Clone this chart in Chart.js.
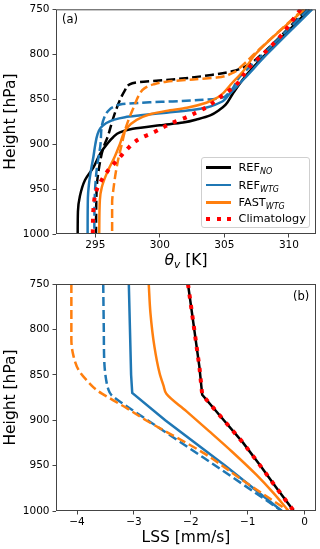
<!DOCTYPE html>
<html>
<head>
<meta charset="utf-8">
<script src="https://cdn.jsdelivr.net/npm/chart.js@4.4.1/dist/chart.umd.min.js"></script>
<style>
    html, body { margin: 0; padding: 0; background: #fff; }
    #fig { position: relative; width: 320px; height: 549px; overflow: hidden; font-family: "DejaVu Sans", sans-serif; color: #000; }
    canvas { position: absolute; left: 0; }
    .tag { position: absolute; font-size: 11.5px; line-height: 1; }
    #thetaTitle { position: absolute; left: 56px; width: 260px; top: 253px; text-align: center; font-size: 15.5px; line-height: 1; white-space: nowrap; }
    #thetaTitle sub { font-size: 10.5px; vertical-align: -3px; line-height: 0; }
    #legend { position: absolute; left: 200.5px; top: 156.5px; width: 109.5px; height: 71px; box-sizing: border-box; border: 1px solid #cfcfcf; border-radius: 3px; background: rgba(255,255,255,0.8); font-size: 11.3px; }
    .row { position: absolute; left: 0; height: 0; }
    .swatch { position: absolute; left: 4px; width: 25px; }
    .lbl { position: absolute; left: 37px; top: -5.5px; line-height: 1; white-space: nowrap; }
    .lbl sub { font-size: 8px; font-style: italic; vertical-align: -2.5px; line-height: 0; }
</style>
</head>
<body>
<div id="fig">
    <canvas id="topChart" width="320" height="270" style="top:0"></canvas>
    <canvas id="botChart" width="320" height="279" style="top:270px"></canvas>
    <div class="tag" style="left:62px;top:14px">(a)</div>
    <div class="tag" style="left:293px;top:291px">(b)</div>
    <div id="thetaTitle"><i>θ</i><sub><i>v</i></sub> [K]</div>
    <div id="legend">
        <div class="row" style="top:10px"><div class="swatch" style="top:-1.25px;height:2.5px;background:#000"></div><div class="lbl">REF<sub>NO</sub></div></div>
        <div class="row" style="top:27.5px"><div class="swatch" style="top:-1.25px;height:2.5px;background:#1f77b4"></div><div class="lbl">REF<sub>WTG</sub></div></div>
        <div class="row" style="top:44.8px"><div class="swatch" style="top:-1.25px;height:2.5px;background:#ff7f0e"></div><div class="lbl">FAST<sub>WTG</sub></div></div>
        <div class="row" style="top:61.3px"><div class="swatch" style="top:-2px;height:4px;background:repeating-linear-gradient(to right,#ff0000 0 4px,transparent 4px 10.6px)"></div><div class="lbl">Climatology</div></div>
    </div>
</div>
<script>
"use strict";

// ---- panel (a): virtual potential temperature [K] against pressure [hPa]
const pressureTicks = [750, 800, 850, 900, 950, 1000];
const thetaTicks = [295, 300, 305, 310];

const refNoThetaP = [750, 800, 825, 845, 856, 862, 868, 872, 876, 879, 883, 887, 892, 900, 910, 926, 940, 958, 975, 1000];
const refNoTheta = [311.6, 308.2, 306.6, 305.6, 305.1, 304.6, 303.9, 303.0, 301.8, 300.0, 297.9, 296.9, 296.4, 295.9, 295.4, 294.85, 294.2, 293.8, 293.65, 293.63];

const refNoDashThetaP = [750, 800, 810, 815, 819, 823, 826, 829, 831, 834, 840, 848, 866, 880, 890, 905, 925, 950, 1000];
const refNoDashTheta = [311.4, 307.9, 307.05, 306.4, 305.6, 304.0, 302.4, 300.2, 298.4, 297.6, 297.3, 297.0, 296.5, 296.2, 296.0, 295.6, 295.3, 295.1, 295.05];

const refWtgThetaP = [750, 800, 827, 845, 852, 856, 859, 862, 865, 868, 870, 873, 877, 882, 890, 900, 914, 930, 945, 960, 1000];
const refWtgTheta = [311.8, 308.3, 306.55, 305.35, 304.9, 304.3, 303.7, 302.5, 300.5, 298.5, 297.3, 296.4, 295.8, 295.4, 295.15, 295.0, 294.85, 294.65, 294.5, 294.42, 294.4];

const refWtgDashThetaP = [750, 800, 825, 845, 849, 851, 852.5, 853.5, 855, 858, 863, 870, 880, 900, 929, 960, 1000];
const refWtgDashTheta = [311.5, 308.0, 306.2, 305.2, 304.6, 303.0, 301.0, 299.2, 297.4, 296.5, 296.0, 295.7, 295.5, 295.4, 295.1, 294.95, 294.92];

const fastWtgThetaP = [750, 800, 818, 832, 847, 854, 859.5, 863, 866.5, 873, 883, 900, 914, 932, 948, 962, 1000];
const fastWtgTheta = [311.2, 307.4, 306.5, 305.6, 304.6, 303.6, 302.1, 300.5, 299.3, 298.2, 297.4, 296.9, 296.5, 295.9, 295.5, 295.35, 295.3];

const fastWtgDashThetaP = [750, 800, 815, 821, 826, 828, 830.5, 833.5, 838, 845, 858, 880, 900, 922, 950, 965, 1000];
const fastWtgDashTheta = [311.1, 307.3, 306.2, 305.6, 304.4, 302.6, 300.5, 299.5, 298.8, 298.4, 298.0, 297.4, 297.05, 296.7, 296.4, 296.3, 296.3];

const climThetaP = [750, 779, 797, 815, 834, 848.5, 859, 865, 870.5, 876, 881, 887, 892, 897, 905, 914.5, 931, 951, 973, 1000];
const climTheta = [310.9, 309.4, 308.2, 306.9, 305.9, 304.6, 303.6, 302.8, 302.0, 301.0, 300.3, 299.5, 298.7, 298.1, 297.5, 296.9, 295.9, 295.1, 294.85, 294.8];

// ---- panel (b): large-scale subsidence [mm/s] against pressure [hPa]
const lssTicks = [-4, -3, -2, -1, 0];

const refNoLssP = [750, 800, 841, 872, 900, 925, 950, 975, 1000];
const refNoLss = [-2.05, -1.94, -1.85, -1.80, -1.42, -1.08, -0.78, -0.49, -0.19];

const climLssP = [750, 800, 841, 872, 900, 925, 950, 975, 1000];
const climLss = [-2.05, -1.94, -1.85, -1.80, -1.42, -1.08, -0.78, -0.49, -0.19];

const refWtgLssP = [750, 800, 850, 870, 900, 950, 1000];
const refWtgLss = [-3.09, -3.07, -3.05, -3.03, -2.45, -1.40, -0.40];

const refWtgDashLssP = [750, 800, 837, 855, 866, 872, 881, 900, 942, 970, 1000];
const refWtgDashLss = [-3.54, -3.53, -3.52, -3.49, -3.45, -3.40, -3.21, -2.76, -1.76, -1.10, -0.40];

const fastWtgLssP = [750, 782, 819, 848, 862, 871, 890, 912, 935, 960, 980, 1000];
const fastWtgLss = [-2.74, -2.71, -2.64, -2.55, -2.48, -2.43, -2.08, -1.68, -1.27, -0.85, -0.55, -0.28];

const fastWtgDashLssP = [750, 811, 830, 845, 856, 867, 876, 887, 900, 936, 970, 1000];
const fastWtgDashLss = [-4.10, -4.10, -4.06, -3.97, -3.83, -3.65, -3.42, -3.12, -2.79, -1.78, -1.00, -0.28];

const fontFamily = '"DejaVu Sans", sans-serif';
const frameGrey = '#444';
const BLACK = '#000000', BLUE = '#1f77b4', ORANGE = '#ff7f0e', RED = '#ff0000';

const SOLID = {borderWidth: 2.5, borderDash: []};
const DASHED = {borderWidth: 2.5, borderDash: [9, 4]};
const DOTTED = {borderWidth: 4, borderDash: [4, 6.6]};

function line(values, levels, color, kind, order, smooth) {
    return Object.assign({
        data: values.map((v, i) => ({x: v, y: levels[i]})),
        borderColor: color,
        backgroundColor: color,
        fill: false,
        pointRadius: 0,
        clip: 0,
        order: order,
        tension: 0,
        cubicInterpolationMode: smooth ? 'monotone' : 'default',
        borderCapStyle: 'butt',
    }, kind);
}

// matplotlib style box round the plot area
const framePlugin = {
    id: 'frame',
    afterDraw(chart) {
        const a = chart.chartArea, ctx = chart.ctx;
        ctx.save();
        ctx.strokeStyle = frameGrey;
        ctx.lineWidth = 1;
        ctx.strokeRect(a.left + 0.5, a.top + 0.5, a.right - a.left - 1, a.bottom - a.top - 1);
        ctx.restore();
    }
};

function makePanel(canvasId, datasets, opts) {
    const tickFont = {family: fontFamily, size: 10.5};
    const titleFont = {family: fontFamily, size: 15.5};
    return new Chart(document.getElementById(canvasId), {
        type: 'line',
        data: {datasets: datasets},
        plugins: [framePlugin],
        options: {
            responsive: false,
            animation: false,
            devicePixelRatio: 1,
            indexAxis: 'y',
            layout: {padding: {left: 0, right: 4, top: opts.padTop, bottom: 0}},
            plugins: {legend: {display: false}, tooltip: {enabled: false}},
            scales: {
                x: {
                    type: 'linear', position: 'bottom',
                    min: opts.xMin, max: opts.xMax,
                    afterBuildTicks: (s) => { s.ticks = opts.xTicks.map(v => ({value: v})); },
                    afterFit: (s) => { s.height = opts.xAxisHeight; },
                    grid: {display: true, drawOnChartArea: false, drawTicks: true, tickLength: 3.5, tickColor: frameGrey, tickWidth: 1},
                    border: {display: false},
                    ticks: {font: tickFont, color: '#000', padding: 1, maxRotation: 0,
                        callback: (v) => String(v).replace('-', '\u2212')},
                    title: opts.xTitle ? {display: true, text: opts.xTitle, color: '#000', font: titleFont, padding: {top: 0, bottom: 2}} : {display: false}
                },
                y: {
                    type: 'linear', position: 'left', reverse: true,
                    min: 750, max: 1000,
                    afterBuildTicks: (s) => { s.ticks = pressureTicks.map(v => ({value: v})); },
                    afterFit: (s) => { s.width = 56; },
                    grid: {display: true, drawOnChartArea: false, drawTicks: true, tickLength: 3.5, tickColor: frameGrey, tickWidth: 1},
                    border: {display: false},
                    ticks: {font: tickFont, color: '#000', padding: 3, callback: (v) => String(v)},
                    title: {display: true, text: 'Height [hPa]', color: '#000', font: titleFont, padding: {top: 2, bottom: 0}}
                }
            }
        }
    });
}

makePanel('topChart', [
    line(refNoTheta, refNoThetaP, BLACK, SOLID, 6, true),
    line(refNoDashTheta, refNoDashThetaP, BLACK, DASHED, 5, true),
    line(refWtgTheta, refWtgThetaP, BLUE, SOLID, 4, true),
    line(refWtgDashTheta, refWtgDashThetaP, BLUE, DASHED, 3, true),
    line(fastWtgTheta, fastWtgThetaP, ORANGE, SOLID, 2, true),
    line(fastWtgDashTheta, fastWtgDashThetaP, ORANGE, DASHED, 1, true),
    line(climTheta, climThetaP, RED, DOTTED, 0, true),
], {padTop: 7, xMin: 291.95, xMax: 312.1, xTicks: thetaTicks, xAxisHeight: 36, xTitle: null});

makePanel('botChart', [
    line(refNoLss, refNoLssP, BLACK, SOLID, 6, false),
    line(refWtgLss, refWtgLssP, BLUE, SOLID, 4, false),
    line(refWtgDashLss, refWtgDashLssP, BLUE, DASHED, 3, true),
    line(fastWtgLss, fastWtgLssP, ORANGE, SOLID, 2, true),
    line(fastWtgDashLss, fastWtgDashLssP, ORANGE, DASHED, 1, true),
    line(climLss, climLssP, RED, DOTTED, 0, false),
], {padTop: 14, xMin: -4.37, xMax: 0.2, xTicks: lssTicks, xAxisHeight: 38, xTitle: 'LSS [mm/s]'});
</script>
</body>
</html>
